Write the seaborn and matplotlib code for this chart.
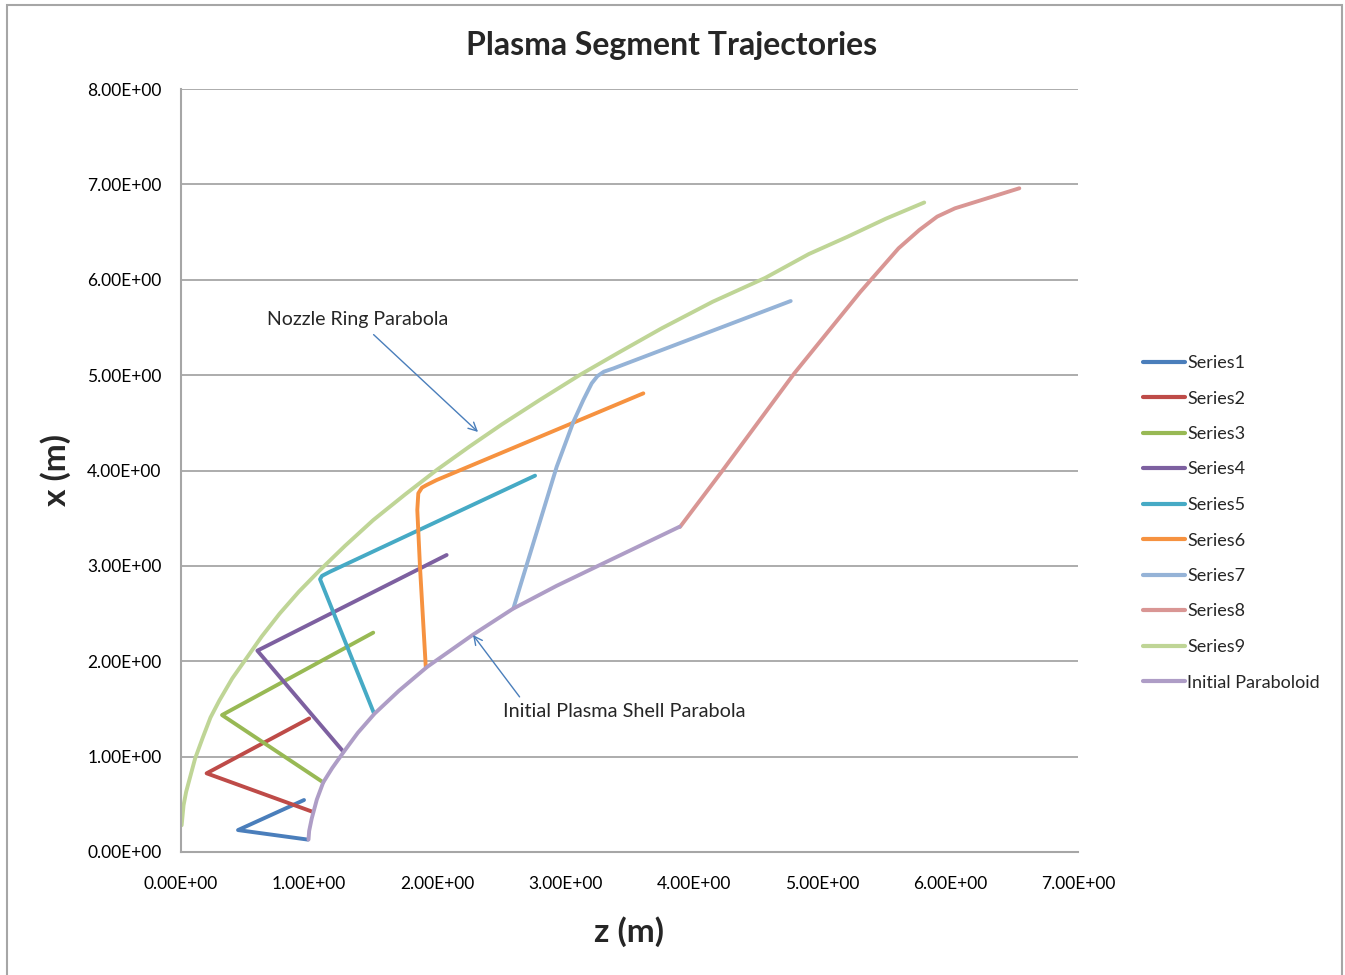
import matplotlib
matplotlib.use("Agg")
import matplotlib.pyplot as plt
import matplotlib.patches as patches
import pandas as pd
import seaborn as sns

# values: z (m) and x (m) for each trajectory
s1_z = [0.99, 0.445, 0.96]
s1_x = [0.13, 0.23, 0.545]
s2_z = [1.03, 0.20, 1.00]
s2_x = [0.42, 0.825, 1.40]
s3_z = [1.11, 0.32, 1.50]
s3_x = [0.73, 1.436, 2.30]
s4_z = [1.267, 0.596, 2.073]
s4_x = [1.052, 2.111, 3.114]
s5_z = [1.506, 1.098, 1.085, 1.10, 1.163, 2.763]
s5_x = [1.454, 2.817, 2.86, 2.895, 2.939, 3.946]
s6_z = [1.91, 1.865, 1.844, 1.852, 1.88, 1.917, 1.995, 3.608]
s6_x = [1.943, 2.99, 3.586, 3.761, 3.82, 3.848, 3.90, 4.809]
s7_z = [2.594, 2.932, 3.062, 3.14, 3.205, 3.25, 3.30, 3.374, 4.758]
s7_x = [2.555, 4.04, 4.51, 4.74, 4.914, 4.99, 5.036, 5.07, 5.777]
s8_z = [3.894, 4.229, 4.786, 5.30, 5.45, 5.60, 5.762, 5.901, 6.04, 6.542]
s8_x = [3.408, 4.005, 5.019, 5.87, 6.10, 6.33, 6.522, 6.662, 6.749, 6.959]
s9_z = [0.005, 0.02, 0.04, 0.07, 0.11, 0.17, 0.23, 0.30, 0.40, 0.51, 0.63, 0.77, 0.92,
        1.08, 1.28, 1.50, 1.75, 2.00, 2.25, 2.50, 2.80, 3.11, 3.42, 3.75, 4.15, 4.56,
        4.90, 5.20, 5.50, 5.80]
s9_x = [0.28, 0.49, 0.63, 0.78, 0.98, 1.20, 1.41, 1.59, 1.82, 2.03, 2.26, 2.50, 2.73,
        2.95, 3.21, 3.48, 3.75, 4.01, 4.25, 4.48, 4.74, 5.00, 5.24, 5.49, 5.77, 6.02,
        6.27, 6.45, 6.64, 6.81]
ip_z = [0.995, 1.00, 1.02, 1.06, 1.11, 1.18, 1.27, 1.38, 1.51, 1.70, 1.92, 2.10, 2.28,
        2.59, 2.93, 3.27, 3.58, 3.89]
ip_x = [0.13, 0.22, 0.35, 0.55, 0.73, 0.88, 1.05, 1.25, 1.45, 1.69, 1.94, 2.11, 2.28,
        2.55, 2.79, 3.01, 3.21, 3.41]

names = ["Series1", "Series2", "Series3", "Series4", "Series5",
         "Series6", "Series7", "Series8", "Series9", "Initial Paraboloid"]
zs = [s1_z, s2_z, s3_z, s4_z, s5_z, s6_z, s7_z, s8_z, s9_z, ip_z]
xs = [s1_x, s2_x, s3_x, s4_x, s5_x, s6_x, s7_x, s8_x, s9_x, ip_x]
colors = ["#4A7EBB", "#BE4B48", "#98B954", "#7D60A0", "#46AAC5",
          "#F69240", "#95B3D7", "#D99694", "#BFD596", "#AE9DC6"]

rows = []
for name, z, x in zip(names, zs, xs):
    for zi, xi in zip(z, x):
        rows.append({"series": name, "z": zi, "x": xi})
df = pd.DataFrame(rows)

sns.set_theme(style="white")
plt.rcParams['font.family'] = ['Lato', 'DejaVu Sans']

fig = plt.figure(figsize=(13.45, 9.75), dpi=100)
ax = fig.add_axes([181/1345, 1 - 852/975, (1078-181)/1345, (852-89)/975])

# outer chart border
fig.patches.append(patches.Rectangle((7/1345, -0.05), (1342-7)/1345, 1 - 5/975 + 0.05,
                                     transform=fig.transFigure, fill=False,
                                     edgecolor="#A6A6A6", linewidth=1.5))

sns.lineplot(data=df, x="z", y="x", hue="series", hue_order=names,
             palette=dict(zip(names, colors)), sort=False, estimator=None,
             linewidth=2.8, ax=ax)
for line in ax.get_lines():
    line.set_solid_joinstyle("round")
    line.set_solid_capstyle("round")

ax.set_xlim(0, 7)
ax.set_ylim(0, 8)
ax.set_xticks(range(8))
ax.set_yticks(range(9))
ax.set_xticklabels(["{:.2E}".format(v) for v in range(8)], fontsize=12.5)
ax.set_yticklabels(["{:.2E}".format(v) for v in range(9)], fontsize=12.5)
ax.tick_params(axis="x", length=0, pad=17, colors="#000000")
ax.tick_params(axis="y", length=0, pad=14, colors="#000000")
ax.yaxis.grid(True, color="#A6A6A6", linewidth=1.3)
ax.xaxis.grid(False)
for side in ["top", "right"]:
    ax.spines[side].set_visible(False)
for side in ["left", "bottom"]:
    ax.spines[side].set_color("#A6A6A6")
    ax.spines[side].set_linewidth(1.5)

ax.set_xlabel("z (m)", fontsize=24, fontweight="bold", labelpad=18)
ax.set_ylabel("x (m)", fontsize=24, fontweight="bold", labelpad=12)
fig.text(672/1345, 1 - 45/975, "Plasma Segment Trajectories", ha="center", va="center",
         fontsize=23, fontweight="bold")

ax.annotate("Nozzle Ring Parabola", xy=(2.318, 4.404), xytext=(1.381, 5.578),
            ha="center", va="center", fontsize=14,
            arrowprops=dict(arrowstyle="->", color="#4A7EBB", lw=1.0,
                            shrinkA=3, shrinkB=0, mutation_scale=15,
                            relpos=(0.55, 0.0)))
ax.annotate("Initial Plasma Shell Parabola", xy=(2.279, 2.275), xytext=(3.457, 1.468),
            ha="center", va="center", fontsize=14.3,
            arrowprops=dict(arrowstyle="->", color="#4A7EBB", lw=1.0,
                            shrinkA=3, shrinkB=0, mutation_scale=15,
                            relpos=(0.09, 1.0)))

leg = ax.legend(loc="upper left", bbox_to_anchor=(1143/1345, 1 - 355/975),
                bbox_transform=fig.transFigure, frameon=False, fontsize=13,
                handlelength=2.3, handletextpad=0.15, labelspacing=1.08,
                borderpad=0, borderaxespad=0)
for h in leg.get_lines():
    h.set_linewidth(3)

fig.savefig("out.png", dpi=100)
